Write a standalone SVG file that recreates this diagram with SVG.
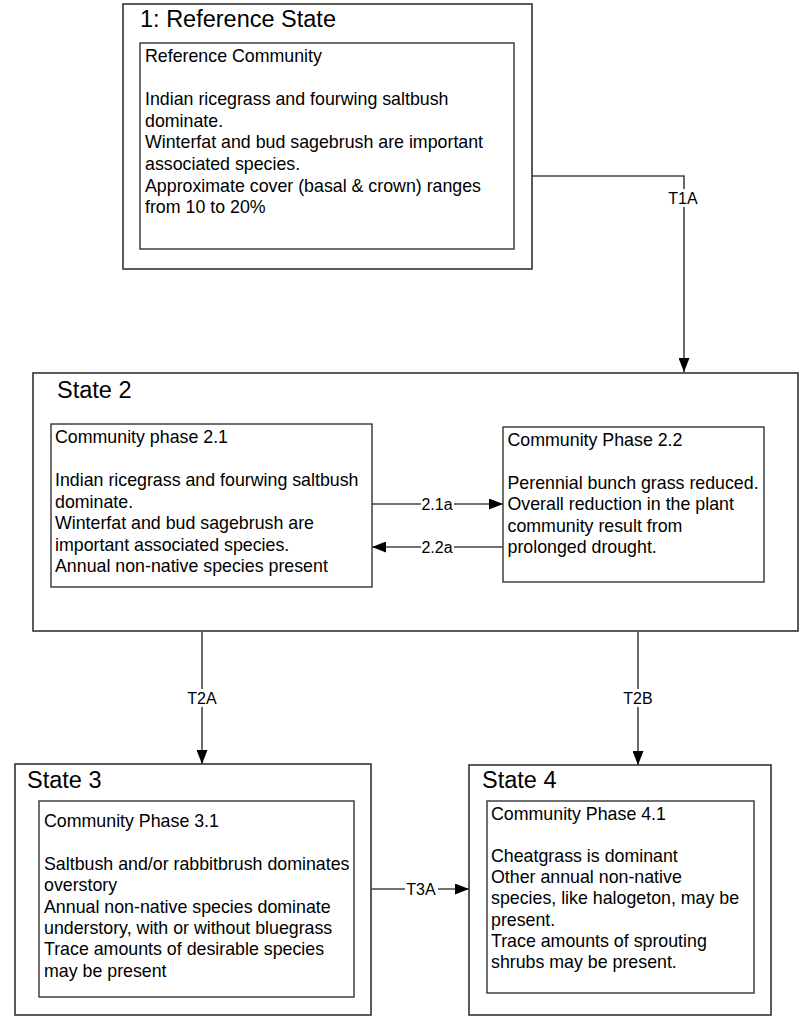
<svg xmlns="http://www.w3.org/2000/svg" width="800" height="1016" viewBox="0 0 800 1016">
<style>
.box{fill:#fff;stroke:#333;stroke-width:1.6}
.inner{fill:#fff;stroke:#333;stroke-width:1.4}
.title{font-family:"Liberation Sans",Arial,sans-serif;font-size:23.5px;fill:#000}
.body{font-family:"Liberation Sans",Arial,sans-serif;font-size:17.8px;fill:#000}
.lbl{font-family:"Liberation Sans",Arial,sans-serif;font-size:16px;fill:#000;text-anchor:middle}
.conn{fill:none;stroke:#444;stroke-width:1.6}
.lblbg{fill:#fff}
</style>
<defs>
<marker id="arr" markerUnits="userSpaceOnUse" markerWidth="14" markerHeight="11" refX="14" refY="5.5" orient="auto">
<path d="M0,0 L14,5.5 L0,11 Z" fill="#000"/>
</marker>
</defs>
<rect width="800" height="1016" fill="#fff"/>

<g id="state1">
<rect class="box" x="123" y="4" width="409" height="265"/>
<text class="title" x="140" y="27">1: Reference State</text>
<g id="ref-community">
<rect class="inner" x="140" y="43" width="374" height="206"/>
<text class="body" x="145">
<tspan x="145" y="62">Reference Community</tspan>
<tspan x="145" y="105.2">Indian ricegrass and fourwing saltbush</tspan>
<tspan x="145" y="126.8">dominate.</tspan>
<tspan x="145" y="148.4">Winterfat and bud sagebrush are important</tspan>
<tspan x="145" y="170">associated species.</tspan>
<tspan x="145" y="191.6">Approximate cover (basal &amp; crown) ranges</tspan>
<tspan x="145" y="213.2">from 10 to 20%</tspan>
</text>
</g>
</g>

<g id="state2">
<rect class="box" x="33" y="373" width="765" height="258"/>
<text class="title" x="57" y="398">State 2</text>
<g id="phase2-1">
<rect class="inner" x="51" y="424" width="321" height="163"/>
<text class="body">
<tspan x="55" y="443">Community phase 2.1</tspan>
<tspan x="55" y="486">Indian ricegrass and fourwing saltbush</tspan>
<tspan x="55" y="507.5">dominate.</tspan>
<tspan x="55" y="529">Winterfat and bud sagebrush are</tspan>
<tspan x="55" y="550.5">important associated species.</tspan>
<tspan x="55" y="572">Annual non-native species present</tspan>
</text>
</g>
<g id="phase2-2">
<rect class="inner" x="503" y="427" width="261" height="155"/>
<text class="body">
<tspan x="507.5" y="446">Community Phase 2.2</tspan>
<tspan x="507.5" y="489">Perennial bunch grass reduced.</tspan>
<tspan x="507.5" y="510.4">Overall reduction in the plant</tspan>
<tspan x="507.5" y="531.8">community result from</tspan>
<tspan x="507.5" y="553.2">prolonged drought.</tspan>
</text>
</g>
</g>

<g id="state3">
<rect class="box" x="15" y="764" width="356" height="251"/>
<text class="title" x="27" y="788">State 3</text>
<g id="phase3-1">
<rect class="inner" x="39" y="801" width="315" height="196"/>
<text class="body">
<tspan x="44" y="827">Community Phase 3.1</tspan>
<tspan x="44" y="869.8">Saltbush and/or rabbitbrush dominates</tspan>
<tspan x="44" y="891.2">overstory</tspan>
<tspan x="44" y="912.6">Annual non-native species dominate</tspan>
<tspan x="44" y="934">understory, with or without bluegrass</tspan>
<tspan x="44" y="955.4">Trace amounts of desirable species</tspan>
<tspan x="44" y="976.8">may be present</tspan>
</text>
</g>
</g>

<g id="state4">
<rect class="box" x="469" y="765" width="302" height="250"/>
<text class="title" x="482" y="788">State 4</text>
<g id="phase4-1">
<rect class="inner" x="487" y="801" width="267" height="192"/>
<text class="body">
<tspan x="491" y="820">Community Phase 4.1</tspan>
<tspan x="491" y="862.2">Cheatgrass is dominant</tspan>
<tspan x="491" y="883.3">Other annual non-native</tspan>
<tspan x="491" y="904.4">species, like halogeton, may be</tspan>
<tspan x="491" y="925.5">present.</tspan>
<tspan x="491" y="946.6">Trace amounts of sprouting</tspan>
<tspan x="491" y="967.7">shrubs may be present.</tspan>
</text>
</g>
</g>

<g id="connectors">
<path class="conn" d="M532,176 H684 V372" marker-end="url(#arr)"/>
<rect class="lblbg" x="667" y="189" width="33" height="18"/>
<text class="lbl" x="683" y="204">T1A</text>

<path class="conn" d="M372,504 H503" marker-end="url(#arr)"/>
<rect class="lblbg" x="421" y="496" width="33" height="16"/>
<text class="lbl" x="437" y="509.5">2.1a</text>

<path class="conn" d="M503,547 H372" marker-end="url(#arr)"/>
<rect class="lblbg" x="421" y="539" width="33" height="16"/>
<text class="lbl" x="437" y="552.5">2.2a</text>

<path class="conn" d="M202,632 V764" marker-end="url(#arr)"/>
<rect class="lblbg" x="186" y="689" width="33" height="18"/>
<text class="lbl" x="202" y="703.5">T2A</text>

<path class="conn" d="M638,632 V765" marker-end="url(#arr)"/>
<rect class="lblbg" x="622" y="689" width="33" height="18"/>
<text class="lbl" x="638" y="703.5">T2B</text>

<path class="conn" d="M371,889 H469" marker-end="url(#arr)"/>
<rect class="lblbg" x="405" y="881" width="33" height="16"/>
<text class="lbl" x="421" y="894.5">T3A</text>
</g>
</svg>
